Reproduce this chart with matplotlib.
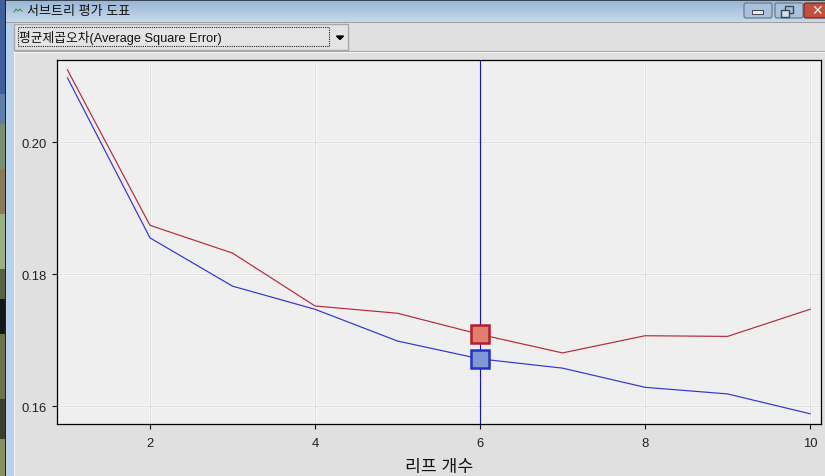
import matplotlib
matplotlib.use("Agg")
import matplotlib.pyplot as plt
from matplotlib.patches import Rectangle, FancyBboxPatch
import numpy as np

plt.rcParams['font.family'] = ['Liberation Sans', 'Noto Sans CJK KR']

# Data
leaves = [1, 2, 3, 4, 5, 6, 7, 8, 9, 10]
valid_ase = [0.2109, 0.1874, 0.1832, 0.1752, 0.1741, 0.1709, 0.1681, 0.1707, 0.1706, 0.1747]
train_ase = [0.2097, 0.1855, 0.1782, 0.1747, 0.1699, 0.1672, 0.1658, 0.1629, 0.1619, 0.1589]
selected_leaf = 6
xticks = [2, 4, 6, 8, 10]
yticks = [0.16, 0.18, 0.20]
title_text = "서브트리 평가 도표"
combo_text = "평균제곱오차(Average Square Error)"
xlabel_text = "리프 개수"

W, H = 825, 477
fig = plt.figure(figsize=(W / 100, H / 100), dpi=100, facecolor="#e0e0e0")

# Window chrome, drawn in pixel coordinates
bg = fig.add_axes([0, 0, 1, 1])
bg.axis("off")

def box(x, y, w, h, fc, ec="none", lw=0, z=1):
    bg.add_patch(Rectangle((x, y), w, h, facecolor=fc, edgecolor=ec, linewidth=lw, zorder=z))

# title bar gradient
grad = np.linspace(0, 1, 24).reshape(-1, 1)
bar = np.array([0x98, 0xb6, 0xd6]) * (1 - grad) + np.array([0xc6, 0xd9, 0xeb]) * grad
bg.imshow(bar.reshape(24, 1, 3) / 255, extent=(6, W, 23, 1), aspect="auto", zorder=1)
bg.set_xlim(0, W)
bg.set_ylim(H, 0)
box(0, 0, W, 1.5, "#3c4650", z=2)
box(6, 23, W, 1, "#a0a0a0", z=2)

# left edge: wallpaper strip, frame border
strip = [(0, 95, "#3f5f9c"), (95, 125, "#5f7fa8"), (125, 170, "#7c8e70"), (170, 215, "#8a7a58"),
         (215, 270, "#9ab080"), (270, 300, "#5a6040"), (300, 335, "#161616"), (335, 400, "#70704a"),
         (400, 440, "#3e3e30"), (440, 477, "#8c8c60")]
for y0, y1, c in strip:
    box(0, y0, 5, y1 - y0, c, z=2)
box(5, 0, 1.2, H, "#1c2228", z=3)
box(6.2, 24, 7.3, H - 24, "#b8d2ec", z=2)
box(13.5, 53, 1.5, H - 53, "#f6f6f6", z=2)

# combo box
box(15, 51.5, W - 15, 1, "#a8a8a8", z=2)
box(15, 53, W - 15, 1, "#f6f6f6", z=2)
bg.add_patch(Rectangle((14, 25), 334, 25.5, facecolor="#e4e4e4", edgecolor="#a8a8a8", linewidth=1, zorder=3))
bg.add_patch(Rectangle((18, 28), 311, 19, facecolor="none", edgecolor="#222222", linewidth=0.8,
                       linestyle=(0, (1, 1)), zorder=4))
bg.text(19, 38, combo_text, fontsize=9.2, va="center", ha="left", color="#111111", zorder=5)
bg.fill([336.5, 343.5, 340], [37, 37, 40.5], color="black", zorder=5)

# title text and icon
bg.plot([14, 16, 18, 20, 22], [13, 10, 12, 10, 12], color="#3a9a3a", lw=0.8, zorder=5)
bg.text(27, 12.5, title_text, fontsize=9.4, va="center", ha="left", color="#111111", zorder=5)

# window buttons
bg.add_patch(FancyBboxPatch((744, 4), 28, 15, boxstyle="round,pad=0,rounding_size=2",
                            facecolor="#a9c1da", edgecolor="#5f7489", lw=0.8, zorder=3))
bg.add_patch(FancyBboxPatch((775, 4), 28, 15, boxstyle="round,pad=0,rounding_size=2",
                            facecolor="#a9c1da", edgecolor="#5f7489", lw=0.8, zorder=3))
bg.add_patch(FancyBboxPatch((804, 4), 24, 15, boxstyle="round,pad=0,rounding_size=2",
                            facecolor="#c4503c", edgecolor="#6e2020", lw=0.8, zorder=3))
box(752, 11, 11, 4, "#f0f0f0", "#3c4650", 0.7, z=4)
box(785, 7, 8, 7, "none", "#3c4650", 1, z=4)
box(781, 10.5, 8, 7, "#d8dee6", "#3c4650", 1, z=4)
bg.text(817, 11.5, "✕", fontsize=10, fontweight="bold", color="#f2f2f2", ha="center", va="center",
        family="DejaVu Sans", zorder=4)

# Plot area
left, right, top, bottom = 57, 821, 60.5, 425
ax = fig.add_axes([left / W, 1 - bottom / H, (right - left) / W, (bottom - top) / H], facecolor="#efefef")
ax.set_xlim(0.873, 10.133)
ax.set_ylim(0.15735, 0.21248)
ax.set_xticks(xticks)
ax.set_yticks(yticks)
ax.set_yticklabels(["%.2f" % v for v in yticks])
ax.tick_params(length=3.6, width=0.8, labelsize=9.4, labelcolor="#222222", color="#111111", pad=3.5)
ax.tick_params(axis="x", pad=5.5)
for s in ax.spines.values():
    s.set_linewidth(0.9)
    s.set_color("black")

# grey grid line with a white edge
for v in xticks:
    ax.axvline(v, color="#fafafa", lw=2.2, zorder=1)
    ax.axvline(v, color="#dedede", lw=0.9, zorder=1.1)
for v in yticks:
    ax.axhline(v, color="#fafafa", lw=2.2, zorder=1)
    ax.axhline(v, color="#dedede", lw=0.9, zorder=1.1)

ax.axvline(selected_leaf, color="#1010f0", lw=0.85, zorder=2)
ax.plot(leaves, valid_ase, color="#b8283c", lw=0.85, zorder=3)
ax.plot(leaves, train_ase, color="#3232dc", lw=0.85, zorder=3)

i = leaves.index(selected_leaf)
ax.plot(leaves[i], valid_ase[i], "s", ms=12.3, mfc="#e07f70", mec="#b81c30", mew=1.8, zorder=4)
ax.plot(leaves[i], train_ase[i], "s", ms=12.3, mfc="#8099d2", mec="#2230cc", mew=1.8, zorder=4)

ax.set_xlabel(xlabel_text, fontsize=12.4, labelpad=7.5, color="#111111")

fig.savefig("out.png", dpi=100, facecolor=fig.get_facecolor())
